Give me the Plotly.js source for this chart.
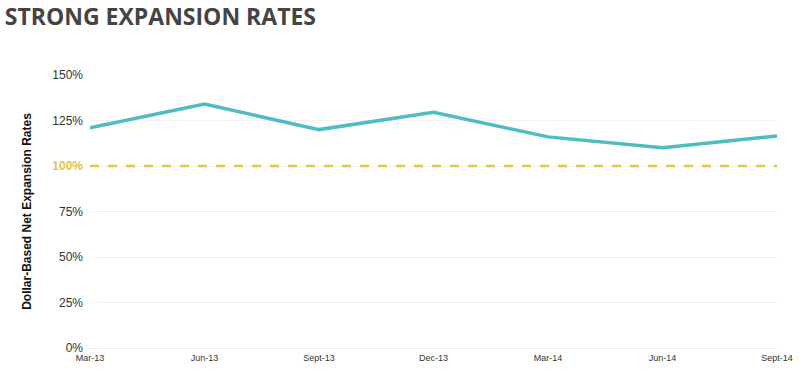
<!DOCTYPE html>
<html><head><meta charset="utf-8">
<script src="https://cdn.plot.ly/plotly-3.0.1.min.js"></script>
<style>html,body{margin:0;padding:0;background:#fff}#c{width:800px;height:370px}</style>
</head><body><div id="c"></div>
<script>
var quarters = ["Mar-13","Jun-13","Sept-13","Dec-13","Mar-14","Jun-14","Sept-14"];
var expansionRates = [121, 134, 120, 129.5, 116, 110, 116.5];
var baseline = [100, 100, 100, 100, 100, 100, 100];
var yTickVals = [0, 25, 50, 75, 100, 125, 150];
var yTickText = ["0%","25%","50%","75%","<span style=\"color:#e8c440\"><b>100%</b></span>","125%","150%"];

var traces = [
  {x: quarters, y: baseline, type: "scatter", mode: "lines",
   line: {color: "#e8c440", width: 2.5, dash: "dash"}, hoverinfo: "none"},
  {x: quarters, y: expansionRates, type: "scatter", mode: "lines",
   line: {color: "#4fbcc4", width: 3.5}, hoverinfo: "none"}
];
var layout = {
  width: 800, height: 370,
  margin: {l: 90, r: 23, t: 75, b: 22},
  paper_bgcolor: "#fff", plot_bgcolor: "#fff",
  showlegend: false,
  font: {family: "Liberation Sans, Arial, sans-serif", color: "#333"},
  title: {text: "<b>STRONG EXPANSION RATES</b>", x: 0.006, xanchor: "left", yref: "container", y: 0.975, yanchor: "top",
          font: {family: "Open Sans, sans-serif", size: 23, color: "#444"}},
  xaxis: {type: "category", range: [0, 6], showgrid: false, zeroline: false, showline: false,
          ticks: "", tickfont: {size: 9, color: "#333"}, ticklen: 0, ticklabelstandoff: 3, automargin: false},
  yaxis: {range: [0, 150], tickvals: yTickVals, ticktext: yTickText, showgrid: true,
          gridcolor: "#f3f3f3", gridwidth: 1, zeroline: true, zerolinecolor: "#eee", showline: false,
          tickfont: {size: 12, color: "#333"}, ticks: "", ticklabelstandoff: 6, ticklabelshift: 0, automargin: false,
          title: {text: "<b>Dollar-Based Net Expansion Rates</b>", font: {size: 12, color: "#111"}, standoff: 18}}
};
Plotly.newPlot("c", traces, layout, {displayModeBar: false, staticPlot: true});
</script></body></html>
